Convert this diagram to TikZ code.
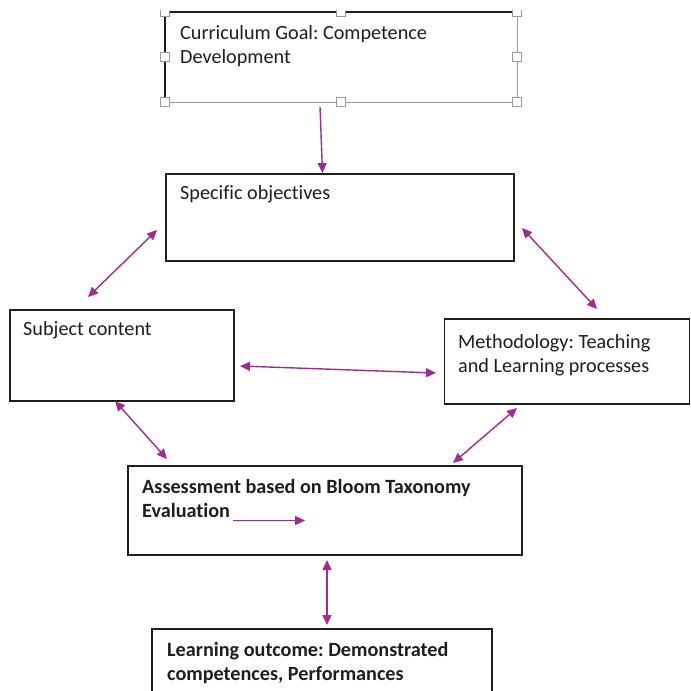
\documentclass[tikz,border=0pt]{standalone}
\usepackage{fontspec}
\setmainfont{Carlito}[Ligatures=NoCommon]
\frenchspacing
\usetikzlibrary{arrows.meta}
\definecolor{linkpurple}{RGB}{160,43,150}
\definecolor{handlegray}{RGB}{155,155,155}
\definecolor{inkgray}{RGB}{30,30,30}
\begin{document}
\begin{tikzpicture}[x=1pt,y=-1pt,
  box/.style={draw=inkgray, line width=1.3pt, inner sep=0pt},
  % anchored at the baseline of the last line
  label/.style={anchor=base west, inner sep=0pt, align=left,
    font=\fontsize{20.2}{24.4}\selectfont, text=inkgray},
  boldlabel/.style={label, font=\fontsize{20.2}{24.4}\selectfont\bfseries},
  tip/.tip={Triangle[length=10pt,width=9pt]},
  link/.style={draw=linkpurple, line width=1.4pt, -tip},
  twoway/.style={draw=linkpurple, line width=1.4pt, tip-tip},
  handle/.style={draw=handlegray, fill=white, line width=0.8pt,
    minimum size=9pt, inner sep=0pt}]
\useasboundingbox (0,0) rectangle (691,691);
\clip (0,0) rectangle (691,691);

% goal box: selected frame with resize handles
\node[minimum width=352pt, minimum height=90pt, inner sep=0pt] (goal) at (341,57) {};
\draw[inkgray, line width=1.5pt] (goal.south west) -- (goal.north west) -- (goal.north east);
\draw[handlegray, line width=1pt] (goal.north east) -- (goal.south east) -- (goal.south west);
\begin{scope}
  \clip (150,10) rectangle (530,120);
  \foreach \a/\n in {north west/h1, north/h2, north east/h3, west/h4,
                     east/h5, south west/h6, south/h7, south east/h8}
    \node[handle] (\n) at (goal.\a) {};
\end{scope}
\node[label] (goaltext) at (180,63.4) {Curriculum Goal: Competence\\Development};

% remaining boxes
\node[box, minimum width=348pt, minimum height=87pt] (spec) at (340,217.5) {};
\node[label] (spectext) at (180,199) {Specific objectives};

\node[box, minimum width=224pt, minimum height=91pt] (subject) at (122,355.5) {};
\node[label] (subjecttext) at (23,335) {Subject content};

\node[box, minimum width=245pt, minimum height=85pt] (method) at (567,361.5) {};
\node[label] (methodtext) at (458,372.4) {Methodology: Teaching\\and Learning processes};

\node[box, minimum width=394pt, minimum height=89pt] (assess) at (325,510.5) {};
\node[boldlabel] (assesstext) at (142,517.4) {Assessment based on Bloom Taxonomy\\Evaluation};

\node[box, minimum width=340pt, minimum height=80pt] (outcome) at (322,669) {};
\node[boldlabel] (outcometext) at (167,680.4) {Learning outcome: Demonstrated\\competences, Performances};

% connector ends
\coordinate (g1) at (320,107);   \coordinate (s0) at (322.5,173);
\coordinate (s1) at (157,230);   \coordinate (c1) at (88,297);
\coordinate (s2) at (522,228);   \coordinate (m1) at (597,309);
\coordinate (c2) at (240,366);   \coordinate (m2) at (436,373);
\coordinate (c3) at (115,401);   \coordinate (a1) at (167,459);
\coordinate (m3) at (517,408);   \coordinate (a2) at (453,463);
\coordinate (e0) at (233,520.5); \coordinate (e1) at (305,520.5);
\coordinate (a3) at (327,560);   \coordinate (o1) at (327,625);

\draw[link] (g1) -- (s0);
\draw[twoway] (s1) -- (c1);
\draw[twoway] (s2) -- (m1);
\draw[twoway] (c2) -- (m2);
\draw[twoway] (c3) -- (a1);
\draw[twoway] (m3) -- (a2);
\draw[link] (e0) -- (e1);
\draw[twoway] (a3) -- (o1);
\end{tikzpicture}
\end{document}
